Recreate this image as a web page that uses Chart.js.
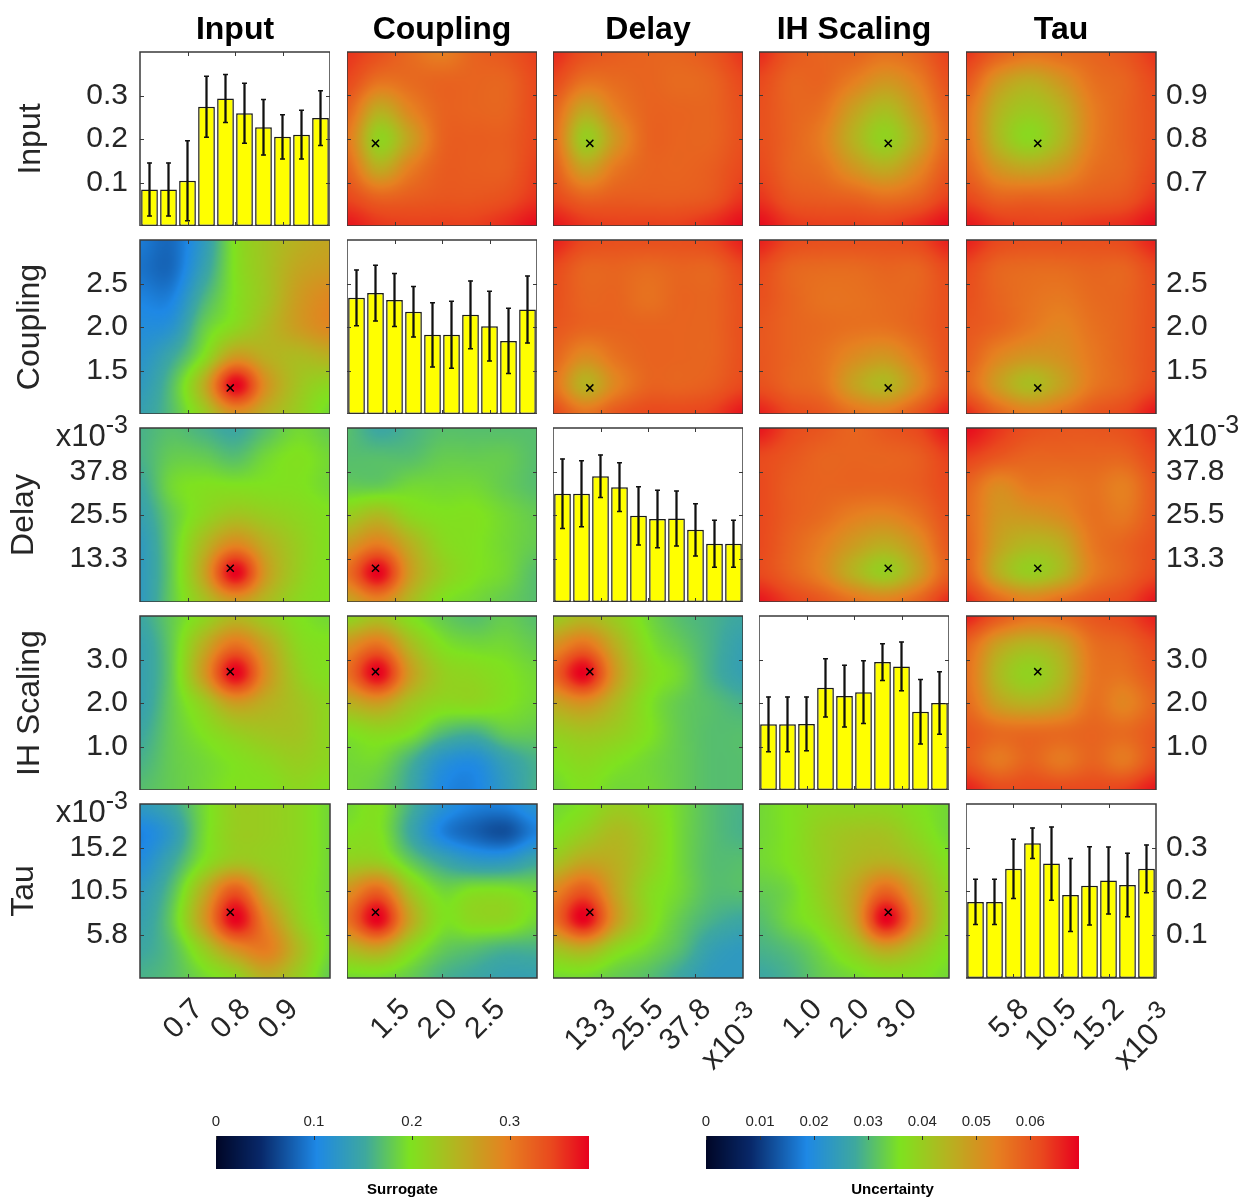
<!DOCTYPE html>
<html>
<head>
<meta charset="utf-8">
<title>Parameter posterior matrix</title>
<script src="https://cdn.jsdelivr.net/npm/chart.js@4.4.1/dist/chart.umd.min.js"></script>
<style>
  html, body { margin: 0; padding: 0; background: #ffffff; }
  #page { position: relative; width: 1246px; height: 1201px; overflow: hidden; background: #ffffff; }
  #page canvas { position: absolute; }
</style>
</head>
<body>
<div id="page"></div>
<script>
// ---- parameters (rows / columns of the matrix) ----
const paramNames = ["Input", "Coupling", "Delay", "IH Scaling", "Tau"];
const paramMin = [0.6, 1.0, 0.001, 0.0, 0.0011];
const paramMax = [1.0, 3.0, 0.050, 4.0, 0.0199];
const paramTicks = [
  [0.7, 0.8, 0.9],
  [1.5, 2.0, 2.5],
  [0.01325, 0.0255, 0.03775],
  [1.0, 2.0, 3.0],
  [0.0058, 0.0105, 0.0152]
];
const paramTickLabels = [
  ["0.7", "0.8", "0.9"],
  ["1.5", "2.0", "2.5"],
  ["13.3", "25.5", "37.8"],
  ["1.0", "2.0", "3.0"],
  ["5.8", "10.5", "15.2"]
];
const paramScaled = [false, false, true, false, true]; // axes shown as x10^-3
const bestFit = [0.79, 1.3, 0.0105, 2.72, 0.0082];

// ---- histograms on the diagonal (10 bins each) ----
const probTicks = [0.1, 0.2, 0.3];
const probTickLabels = ["0.1", "0.2", "0.3"];
const probMax = 0.4;

const probInput = [0.084, 0.084, 0.104, 0.274, 0.293, 0.259, 0.227, 0.205, 0.210, 0.248];
const errInput = [0.061, 0.061, 0.092, 0.070, 0.055, 0.069, 0.064, 0.051, 0.056, 0.063];
const probCoupling = [0.267, 0.278, 0.262, 0.235, 0.182, 0.182, 0.228, 0.202, 0.168, 0.240];
const errCoupling = [0.064, 0.064, 0.061, 0.058, 0.074, 0.077, 0.078, 0.080, 0.075, 0.077];
const probDelay = [0.249, 0.249, 0.289, 0.264, 0.198, 0.191, 0.192, 0.166, 0.134, 0.134];
const errDelay = [0.080, 0.076, 0.049, 0.056, 0.067, 0.066, 0.063, 0.060, 0.054, 0.054];
const probIh = [0.151, 0.151, 0.152, 0.235, 0.216, 0.225, 0.294, 0.284, 0.180, 0.200];
const errIh = [0.063, 0.063, 0.062, 0.067, 0.071, 0.072, 0.042, 0.056, 0.074, 0.072];
const probTau = [0.175, 0.175, 0.251, 0.310, 0.263, 0.191, 0.212, 0.224, 0.214, 0.251];
const errTau = [0.052, 0.052, 0.068, 0.035, 0.084, 0.084, 0.090, 0.077, 0.073, 0.055];

// ---- colour scales ----
const surrogateMax = 0.381;
const surrogateTicks = [0, 0.1, 0.2, 0.3];
const surrogateTickLabels = ["0", "0.1", "0.2", "0.3"];
const uncertaintyMax = 0.069;
const uncertaintyTicks = [0, 0.01, 0.02, 0.03, 0.04, 0.05, 0.06];
const uncertaintyTickLabels = ["0", "0.01", "0.02", "0.03", "0.04", "0.05", "0.06"];

// ---- surrogate maps (lower triangle), rows top -> bottom, 7x7 nodes ----
const surCouplingInput = [
  [0.095, 0.085, 0.13, 0.20, 0.23, 0.25, 0.26],
  [0.090, 0.085, 0.14, 0.20, 0.23, 0.26, 0.27],
  [0.100, 0.100, 0.16, 0.20, 0.23, 0.27, 0.29],
  [0.110, 0.120, 0.18, 0.21, 0.24, 0.27, 0.29],
  [0.120, 0.150, 0.20, 0.27, 0.25, 0.24, 0.25],
  [0.130, 0.170, 0.25, 0.38, 0.28, 0.23, 0.21],
  [0.140, 0.170, 0.22, 0.28, 0.25, 0.22, 0.19]
];
const surDelayInput = [
  [0.16, 0.17, 0.16, 0.15, 0.17, 0.19, 0.18],
  [0.16, 0.18, 0.18, 0.17, 0.19, 0.20, 0.19],
  [0.15, 0.19, 0.20, 0.20, 0.20, 0.20, 0.19],
  [0.14, 0.18, 0.21, 0.23, 0.22, 0.21, 0.20],
  [0.13, 0.18, 0.24, 0.29, 0.25, 0.22, 0.20],
  [0.13, 0.18, 0.26, 0.38, 0.27, 0.22, 0.20],
  [0.13, 0.18, 0.23, 0.27, 0.24, 0.21, 0.20]
];
const surDelayCoupling = [
  [0.17, 0.15, 0.16, 0.17, 0.17, 0.17, 0.17],
  [0.17, 0.17, 0.17, 0.18, 0.18, 0.18, 0.17],
  [0.18, 0.18, 0.19, 0.19, 0.19, 0.18, 0.17],
  [0.22, 0.24, 0.21, 0.20, 0.20, 0.19, 0.18],
  [0.27, 0.30, 0.25, 0.21, 0.20, 0.19, 0.18],
  [0.31, 0.38, 0.27, 0.22, 0.20, 0.19, 0.17],
  [0.26, 0.29, 0.24, 0.20, 0.19, 0.18, 0.17]
];
const surIhInput = [
  [0.15, 0.18, 0.21, 0.24, 0.22, 0.20, 0.19],
  [0.14, 0.18, 0.25, 0.31, 0.26, 0.21, 0.20],
  [0.14, 0.18, 0.27, 0.38, 0.28, 0.22, 0.20],
  [0.14, 0.18, 0.22, 0.27, 0.25, 0.23, 0.21],
  [0.15, 0.18, 0.20, 0.22, 0.23, 0.23, 0.21],
  [0.16, 0.18, 0.19, 0.20, 0.21, 0.22, 0.21],
  [0.17, 0.18, 0.19, 0.20, 0.20, 0.21, 0.20]
];
const surIhCoupling = [
  [0.21, 0.23, 0.20, 0.18, 0.17, 0.18, 0.17],
  [0.28, 0.31, 0.24, 0.20, 0.19, 0.19, 0.18],
  [0.31, 0.38, 0.27, 0.22, 0.21, 0.20, 0.19],
  [0.25, 0.27, 0.23, 0.21, 0.21, 0.20, 0.19],
  [0.20, 0.21, 0.20, 0.17, 0.16, 0.18, 0.18],
  [0.19, 0.19, 0.16, 0.12, 0.11, 0.14, 0.16],
  [0.19, 0.18, 0.15, 0.105, 0.10, 0.13, 0.16]
];
const surIhDelay = [
  [0.22, 0.24, 0.22, 0.19, 0.17, 0.16, 0.15],
  [0.28, 0.31, 0.25, 0.20, 0.18, 0.16, 0.14],
  [0.32, 0.38, 0.27, 0.21, 0.19, 0.16, 0.14],
  [0.26, 0.28, 0.24, 0.20, 0.18, 0.17, 0.16],
  [0.22, 0.23, 0.22, 0.20, 0.18, 0.17, 0.17],
  [0.20, 0.21, 0.20, 0.19, 0.18, 0.17, 0.17],
  [0.19, 0.20, 0.19, 0.19, 0.18, 0.17, 0.17]
];
const surTauInput = [
  [0.13, 0.15, 0.19, 0.22, 0.22, 0.21, 0.19],
  [0.10, 0.13, 0.19, 0.22, 0.22, 0.21, 0.19],
  [0.11, 0.15, 0.20, 0.23, 0.22, 0.21, 0.19],
  [0.13, 0.17, 0.25, 0.33, 0.25, 0.21, 0.19],
  [0.14, 0.18, 0.27, 0.38, 0.29, 0.22, 0.19],
  [0.15, 0.17, 0.22, 0.28, 0.30, 0.24, 0.19],
  [0.16, 0.17, 0.19, 0.21, 0.25, 0.22, 0.18]
];
const surTauCoupling = [
  [0.19, 0.20, 0.16, 0.12, 0.10, 0.10, 0.12],
  [0.20, 0.20, 0.15, 0.10, 0.08, 0.07, 0.10],
  [0.22, 0.22, 0.18, 0.15, 0.13, 0.13, 0.15],
  [0.28, 0.32, 0.23, 0.19, 0.20, 0.20, 0.19],
  [0.31, 0.38, 0.26, 0.20, 0.21, 0.21, 0.19],
  [0.24, 0.26, 0.21, 0.18, 0.17, 0.16, 0.16],
  [0.19, 0.19, 0.18, 0.16, 0.15, 0.14, 0.14]
];
const surTauDelay = [
  [0.19, 0.20, 0.22, 0.21, 0.19, 0.17, 0.16],
  [0.20, 0.22, 0.24, 0.22, 0.19, 0.17, 0.16],
  [0.23, 0.26, 0.25, 0.22, 0.19, 0.17, 0.17],
  [0.29, 0.33, 0.26, 0.21, 0.19, 0.17, 0.17],
  [0.31, 0.38, 0.27, 0.21, 0.18, 0.16, 0.15],
  [0.23, 0.25, 0.21, 0.19, 0.17, 0.14, 0.13],
  [0.19, 0.19, 0.18, 0.17, 0.15, 0.13, 0.13]
];
const surTauIh = [
  [0.19, 0.20, 0.21, 0.21, 0.21, 0.20, 0.19],
  [0.19, 0.20, 0.22, 0.23, 0.23, 0.21, 0.19],
  [0.19, 0.20, 0.22, 0.24, 0.25, 0.23, 0.20],
  [0.18, 0.19, 0.22, 0.26, 0.32, 0.26, 0.21],
  [0.17, 0.19, 0.21, 0.26, 0.38, 0.28, 0.21],
  [0.16, 0.17, 0.19, 0.22, 0.26, 0.23, 0.20],
  [0.15, 0.16, 0.18, 0.19, 0.20, 0.20, 0.19]
];

// ---- uncertainty maps (upper triangle) ----
const uncInputCoupling = [
  [0.064, 0.061, 0.057, 0.054, 0.058, 0.060, 0.063],
  [0.062, 0.056, 0.057, 0.058, 0.058, 0.058, 0.062],
  [0.058, 0.046, 0.053, 0.058, 0.058, 0.058, 0.062],
  [0.055, 0.039, 0.048, 0.058, 0.059, 0.059, 0.062],
  [0.058, 0.046, 0.054, 0.059, 0.059, 0.059, 0.063],
  [0.062, 0.058, 0.059, 0.060, 0.060, 0.061, 0.064],
  [0.067, 0.064, 0.063, 0.063, 0.063, 0.065, 0.068]
];
const uncInputDelay = [
  [0.065, 0.061, 0.059, 0.058, 0.058, 0.060, 0.064],
  [0.062, 0.056, 0.057, 0.058, 0.057, 0.058, 0.062],
  [0.058, 0.047, 0.054, 0.058, 0.058, 0.058, 0.061],
  [0.057, 0.040, 0.050, 0.058, 0.058, 0.058, 0.061],
  [0.059, 0.048, 0.055, 0.058, 0.058, 0.059, 0.062],
  [0.062, 0.058, 0.059, 0.059, 0.059, 0.060, 0.064],
  [0.067, 0.064, 0.063, 0.063, 0.063, 0.065, 0.068]
];
const uncInputIh = [
  [0.065, 0.060, 0.058, 0.058, 0.056, 0.058, 0.063],
  [0.062, 0.058, 0.058, 0.054, 0.050, 0.054, 0.061],
  [0.061, 0.058, 0.056, 0.048, 0.043, 0.050, 0.059],
  [0.061, 0.058, 0.054, 0.045, 0.039, 0.047, 0.058],
  [0.062, 0.058, 0.056, 0.050, 0.046, 0.052, 0.060],
  [0.064, 0.060, 0.059, 0.058, 0.056, 0.058, 0.063],
  [0.068, 0.064, 0.063, 0.063, 0.063, 0.065, 0.068]
];
const uncInputTau = [
  [0.064, 0.059, 0.056, 0.057, 0.058, 0.060, 0.064],
  [0.060, 0.050, 0.046, 0.050, 0.056, 0.058, 0.062],
  [0.056, 0.045, 0.041, 0.045, 0.054, 0.058, 0.061],
  [0.056, 0.044, 0.038, 0.044, 0.054, 0.058, 0.061],
  [0.058, 0.050, 0.047, 0.050, 0.056, 0.058, 0.062],
  [0.062, 0.058, 0.058, 0.058, 0.059, 0.060, 0.064],
  [0.067, 0.064, 0.063, 0.063, 0.064, 0.065, 0.068]
];
const uncCouplingDelay = [
  [0.066, 0.062, 0.061, 0.061, 0.061, 0.062, 0.066],
  [0.062, 0.058, 0.058, 0.057, 0.058, 0.058, 0.062],
  [0.061, 0.058, 0.058, 0.056, 0.058, 0.058, 0.061],
  [0.060, 0.058, 0.058, 0.058, 0.058, 0.058, 0.061],
  [0.058, 0.052, 0.056, 0.058, 0.058, 0.058, 0.061],
  [0.056, 0.045, 0.053, 0.058, 0.058, 0.059, 0.062],
  [0.062, 0.056, 0.060, 0.062, 0.062, 0.063, 0.067]
];
const uncCouplingIh = [
  [0.066, 0.062, 0.061, 0.061, 0.061, 0.062, 0.066],
  [0.062, 0.058, 0.057, 0.057, 0.058, 0.058, 0.062],
  [0.061, 0.058, 0.056, 0.056, 0.057, 0.058, 0.061],
  [0.060, 0.058, 0.057, 0.056, 0.056, 0.058, 0.061],
  [0.060, 0.058, 0.056, 0.052, 0.050, 0.055, 0.061],
  [0.061, 0.058, 0.056, 0.048, 0.044, 0.052, 0.061],
  [0.066, 0.062, 0.060, 0.056, 0.055, 0.060, 0.066]
];
const uncCouplingTau = [
  [0.066, 0.062, 0.061, 0.061, 0.061, 0.062, 0.066],
  [0.062, 0.058, 0.057, 0.057, 0.058, 0.058, 0.062],
  [0.061, 0.058, 0.056, 0.055, 0.057, 0.058, 0.061],
  [0.060, 0.058, 0.055, 0.053, 0.056, 0.058, 0.061],
  [0.059, 0.053, 0.050, 0.051, 0.055, 0.058, 0.061],
  [0.058, 0.049, 0.043, 0.048, 0.055, 0.058, 0.062],
  [0.065, 0.058, 0.054, 0.056, 0.060, 0.062, 0.067]
];
const uncDelayIh = [
  [0.067, 0.062, 0.060, 0.058, 0.060, 0.062, 0.067],
  [0.062, 0.060, 0.058, 0.058, 0.058, 0.059, 0.063],
  [0.062, 0.059, 0.058, 0.058, 0.058, 0.059, 0.062],
  [0.062, 0.059, 0.057, 0.054, 0.053, 0.056, 0.061],
  [0.062, 0.058, 0.054, 0.049, 0.046, 0.051, 0.060],
  [0.062, 0.058, 0.053, 0.045, 0.040, 0.048, 0.059],
  [0.067, 0.063, 0.060, 0.056, 0.054, 0.058, 0.065]
];
const uncDelayTau = [
  [0.068, 0.064, 0.061, 0.060, 0.060, 0.061, 0.064],
  [0.063, 0.060, 0.058, 0.058, 0.058, 0.058, 0.062],
  [0.058, 0.052, 0.055, 0.055, 0.056, 0.054, 0.060],
  [0.057, 0.050, 0.050, 0.052, 0.056, 0.055, 0.060],
  [0.058, 0.048, 0.044, 0.046, 0.055, 0.058, 0.061],
  [0.059, 0.046, 0.040, 0.044, 0.054, 0.058, 0.062],
  [0.065, 0.058, 0.054, 0.057, 0.060, 0.062, 0.067]
];
const uncIhTau = [
  [0.066, 0.060, 0.056, 0.057, 0.060, 0.062, 0.066],
  [0.058, 0.048, 0.044, 0.047, 0.056, 0.058, 0.062],
  [0.056, 0.044, 0.039, 0.044, 0.055, 0.056, 0.060],
  [0.057, 0.048, 0.045, 0.048, 0.056, 0.053, 0.058],
  [0.060, 0.057, 0.057, 0.057, 0.058, 0.057, 0.060],
  [0.060, 0.055, 0.058, 0.055, 0.058, 0.055, 0.061],
  [0.066, 0.062, 0.062, 0.062, 0.062, 0.063, 0.067]
];

// lookup tables built from the arrays above
const probByParam = [probInput, probCoupling, probDelay, probIh, probTau];
const errByParam = [errInput, errCoupling, errDelay, errIh, errTau];
const heatGrids = [
  [null, uncInputCoupling, uncInputDelay, uncInputIh, uncInputTau],
  [surCouplingInput, null, uncCouplingDelay, uncCouplingIh, uncCouplingTau],
  [surDelayInput, surDelayCoupling, null, uncDelayIh, uncDelayTau],
  [surIhInput, surIhCoupling, surIhDelay, null, uncIhTau],
  [surTauInput, surTauCoupling, surTauDelay, surTauIh, null]
];

// colour map (fraction, r, g, b)
const cmapStops = [
  [0.00, 0, 6, 38],
  [0.12, 8, 40, 105],
  [0.27, 30, 136, 229],
  [0.40, 62, 168, 158],
  [0.52, 126, 226, 31],
  [0.65, 182, 178, 32],
  [0.78, 230, 128, 32],
  [0.90, 233, 72, 30],
  [1.00, 232, 0, 30]
];

// ---- layout ----
const pageW = 1246;
const colLeft = [140, 347, 553, 759, 966];
const rowTop = [52, 240, 428, 616, 804];
const panelW = 190, panelH = 174;
const rowLabelLeft = [12, 11, 5, 11, 5];
const bottomAxisH = 100;
const headroom = 16;      // room above a panel for the x10^-3 superscript
const rightSpill = 30;    // room right of a bottom panel for the rotated x10^-3
const tickSize = 30;
const ink = '#262626';
const frameColour = '#3a3a3a';
const fontFamily = '"Liberation Sans", Arial, Helvetica, sans-serif';

Chart.defaults.font.family = fontFamily;
Chart.defaults.color = ink;
Chart.defaults.animation = false;
Chart.defaults.events = [];
Chart.defaults.plugins.legend.display = false;
Chart.defaults.plugins.tooltip.enabled = false;

const page = document.getElementById('page');

function addCanvas(x, y, w, h) {
  const cv = document.createElement('canvas');
  cv.width = w;
  cv.height = h;
  cv.style.left = x + 'px';
  cv.style.top = y + 'px';
  cv.style.width = w + 'px';
  cv.style.height = h + 'px';
  page.appendChild(cv);
  return cv;
}

function colourAt(f) {
  f = Math.max(0, Math.min(1, f));
  for (let k = 1; k < cmapStops.length; k++) {
    const [f1, r1, g1, b1] = cmapStops[k];
    if (f <= f1) {
      const [f0, r0, g0, b0] = cmapStops[k - 1];
      const t = (f - f0) / (f1 - f0);
      return [r0 + t * (r1 - r0), g0 + t * (g1 - g0), b0 + t * (b1 - b0)];
    }
  }
  return cmapStops[cmapStops.length - 1].slice(1);
}

// Catmull-Rom smoothing of the node grid ("shading interp")
function cr(p0, p1, p2, p3, t) {
  return p1 + 0.5 * t * (p2 - p0 + t * (2 * p0 - 5 * p1 + 4 * p2 - p3 + t * (3 * (p1 - p2) + p3 - p0)));
}
function sampleGrid(grid, gx, gy) {
  const rows = grid.length, cols = grid[0].length;
  const ix = Math.min(Math.floor(gx), cols - 2);
  const iy = Math.min(Math.floor(gy), rows - 2);
  const tx = gx - ix, ty = gy - iy;
  const at = (r, c) => grid[Math.max(0, Math.min(rows - 1, r))][Math.max(0, Math.min(cols - 1, c))];
  const rowVal = r => cr(at(r, ix - 1), at(r, ix), at(r, ix + 1), at(r, ix + 2), tx);
  return cr(rowVal(iy - 1), rowVal(iy), rowVal(iy + 1), rowVal(iy + 2), ty);
}

function heatImage(grid, vmax) {
  const n = 96;
  const off = document.createElement('canvas');
  off.width = n;
  off.height = n;
  const octx = off.getContext('2d');
  const im = octx.createImageData(n, n);
  const rows = grid.length, cols = grid[0].length;
  for (let j = 0; j < n; j++) {
    const gy = (j + 0.5) / n * (rows - 1);
    for (let i = 0; i < n; i++) {
      const gx = (i + 0.5) / n * (cols - 1);
      const rgb = colourAt(sampleGrid(grid, gx, gy) / vmax);
      const k = (j * n + i) * 4;
      im.data[k] = rgb[0];
      im.data[k + 1] = rgb[1];
      im.data[k + 2] = rgb[2];
      im.data[k + 3] = 255;
    }
  }
  octx.putImageData(im, 0, 0);
  return off;
}

// plugins
function heatLayer(grid, vmax) {
  const img = heatImage(grid, vmax);
  return {
    id: 'heatLayer',
    beforeDatasetsDraw(chart) {
      const { ctx } = chart;
      const xs = chart.scales.x, ys = chart.scales.y;
      const left = xs.getPixelForValue(xs.min), right = xs.getPixelForValue(xs.max);
      const top = ys.getPixelForValue(ys.max), bottom = ys.getPixelForValue(ys.min);
      ctx.save();
      ctx.imageSmoothingEnabled = true;
      ctx.imageSmoothingQuality = 'high';
      ctx.drawImage(img, left, top, right - left, bottom - top);
      ctx.restore();
    }
  };
}

function panelFrame(xId, xTicks, yTicks) {
  return {
    id: 'panelFrame',
    afterDraw(chart) {
      const { ctx, chartArea: a } = chart;
      const xs = chart.scales[xId], ys = chart.scales.y;
      ctx.save();
      ctx.strokeStyle = frameColour;
      ctx.lineWidth = 1;
      ctx.beginPath();
      xTicks.forEach(v => {
        const px = Math.round(xs.getPixelForValue(v)) + 0.5;
        ctx.moveTo(px, a.top); ctx.lineTo(px, a.top + 4);
        ctx.moveTo(px, a.bottom); ctx.lineTo(px, a.bottom - 4);
      });
      yTicks.forEach(v => {
        const py = Math.round(ys.getPixelForValue(v)) + 0.5;
        ctx.moveTo(a.left, py); ctx.lineTo(a.left + 4, py);
        ctx.moveTo(a.right, py); ctx.lineTo(a.right - 4, py);
      });
      ctx.stroke();
      ctx.lineWidth = 1.5;
      ctx.strokeRect(a.left, a.top, a.right - a.left, a.bottom - a.top);
      ctx.restore();
    }
  };
}

function columnTitle(text) {
  return {
    id: 'columnTitle',
    afterDraw(chart) {
      const { ctx, chartArea: a } = chart;
      ctx.save();
      ctx.font = 'bold 32px ' + fontFamily;
      ctx.fillStyle = '#000';
      ctx.textAlign = 'center';
      ctx.textBaseline = 'middle';
      ctx.fillText(text, (a.left + a.right) / 2, 30);
      ctx.restore();
    }
  };
}

function drawExponent(ctx, x, y, align, angle) {
  ctx.save();
  ctx.translate(x, y);
  ctx.rotate(angle);
  ctx.fillStyle = ink;
  ctx.textAlign = 'left';
  ctx.textBaseline = 'alphabetic';
  ctx.font = '31px ' + fontFamily;
  const w1 = ctx.measureText('x10').width;
  ctx.font = '25px ' + fontFamily;
  const w2 = ctx.measureText('-3').width;
  const x0 = align === 'right' ? -(w1 + w2) : 0;
  ctx.font = '31px ' + fontFamily;
  ctx.fillText('x10', x0, 0);
  ctx.font = '25px ' + fontFamily;
  ctx.fillText('-3', x0 + w1, -13);
  ctx.restore();
}

function exponentMarks(sides) {
  return {
    id: 'exponentMarks',
    afterDraw(chart) {
      const { ctx, chartArea: a } = chart;
      sides.forEach(side => {
        if (side === 'left') drawExponent(ctx, a.left - 12, a.top + 18, 'right', 0);
        if (side === 'right') drawExponent(ctx, a.right + 11, a.top + 18, 'left', 0);
        if (side === 'bottom') drawExponent(ctx, a.right + 21, a.bottom + 42, 'right', -Math.PI / 4);
      });
    }
  };
}

// force the box size of a visible axis so every panel gets the same plot area
function fitTo(s, size) {
  if (s.options.display) {
    if (s.isHorizontal()) s.height = size; else s.width = size;
  }
  s.paddingTop = 0; s.paddingBottom = 0; s.paddingLeft = 0; s.paddingRight = 0;
}

function tickOptions(position, labels) {
  if (position === 'bottom') {
    return { autoSkip: false, minRotation: 45, maxRotation: 45, padding: 14, labelOffset: 11,
             font: { size: tickSize }, callback: (v, i) => labels[i] };
  }
  return { autoSkip: false, padding: position === 'left' ? 12 : 10,
           font: { size: tickSize }, callback: (v, i) => labels[i] };
}

function axisTitle(text) {
  if (!text) return { display: false };
  return { display: true, text: text, font: { size: 32 }, padding: 0, color: ink };
}

function paramAxis(p, position, show, fitSize, title) {
  return {
    type: 'linear',
    position: position,
    display: show,
    offset: false,
    min: paramMin[p],
    max: paramMax[p],
    afterBuildTicks: s => { s.ticks = paramTicks[p].map(v => ({ value: v })); },
    afterFit: s => fitTo(s, fitSize),
    grid: { display: false, drawTicks: false, offset: false },
    border: { display: false },
    title: axisTitle(title),
    ticks: tickOptions(position, paramTickLabels[p])
  };
}

function probAxis(position, show, fitSize, title) {
  return {
    type: 'linear',
    position: position,
    display: show,
    min: 0,
    max: probMax,
    afterBuildTicks: s => { s.ticks = probTicks.map(v => ({ value: v })); },
    afterFit: s => fitTo(s, fitSize),
    grid: { display: false, drawTicks: false },
    border: { display: false },
    title: axisTitle(title),
    ticks: tickOptions(position, probTickLabels)
  };
}

function buildPanel(r, c) {
  const left = c === 0 ? rowLabelLeft[r] : colLeft[c];
  const right = c === 4 ? pageW : colLeft[c] + panelW + (r === 4 ? rightSpill : 0);
  const top = r === 0 ? 0 : rowTop[r] - headroom;
  const bottom = r === 4 ? rowTop[r] + panelH + bottomAxisH : rowTop[r] + panelH;
  const canvas = addCanvas(left, top, right - left, bottom - top);
  const leftW = colLeft[0] - left;
  const rightW = c === 4 ? pageW - (colLeft[4] + panelW) : 0;
  const sideW = c === 0 ? leftW : rightW;
  const showSide = c === 0 || c === 4;
  const sidePos = c === 4 ? 'right' : 'left';
  const sideTitle = c === 0 ? paramNames[r] : null;

  const plugins = [];
  const expSides = [];
  if (r === 0) plugins.push(columnTitle(paramNames[c]));
  if (r === 4 && paramScaled[c]) expSides.push('bottom');

  const base = {
    responsive: false,
    animation: false,
    events: [],
    layout: {
      autoPadding: false,
      padding: {
        top: rowTop[r] - top,
        left: 0,
        right: (r === 4 && c < 4) ? rightSpill : 0,
        bottom: 0
      }
    },
    plugins: { legend: { display: false }, tooltip: { enabled: false } }
  };

  if (r === c) {
    const prob = probByParam[r], err = errByParam[r];
    plugins.push(panelFrame('xp', paramTicks[c], probTicks));
    if (expSides.length) plugins.push(exponentMarks(expSides));
    new Chart(canvas, {
      type: 'bar',
      data: {
        labels: prob.map((_, i) => String(i + 1)),
        datasets: [
          { type: 'line', data: prob.map((p, i) => p + err[i]), showLine: false, pointStyle: 'line',
            pointRadius: 2.5, pointBorderWidth: 1.5, pointBorderColor: '#111', borderColor: '#111', order: 0 },
          { type: 'line', data: prob.map((p, i) => p - err[i]), showLine: false, pointStyle: 'line',
            pointRadius: 2.5, pointBorderWidth: 1.5, pointBorderColor: '#111', borderColor: '#111', order: 0 },
          { data: prob.map((p, i) => [p - err[i], p + err[i]]), backgroundColor: '#111',
            barThickness: 1.6, grouped: false, order: 1 },
          { data: prob, backgroundColor: '#ffff00', borderColor: '#1a1a1a', borderWidth: 1.5,
            borderSkipped: false, barPercentage: 0.88, categoryPercentage: 1, grouped: false, order: 2 }
        ]
      },
      options: Object.assign(base, {
        scales: {
          x: { type: 'category', display: false, offset: true },
          xp: paramAxis(c, 'bottom', r === 4, bottomAxisH, null),
          y: probAxis(sidePos, showSide, sideW, sideTitle)
        }
      }),
      plugins: plugins
    });
    return;
  }

  const upper = c > r;
  plugins.unshift(heatLayer(heatGrids[r][c], upper ? uncertaintyMax : surrogateMax));
  plugins.push(panelFrame('x', paramTicks[c], paramTicks[r]));
  if (showSide && paramScaled[r]) expSides.push(c === 0 ? 'left' : 'right');
  if (expSides.length) plugins.push(exponentMarks(expSides));

  new Chart(canvas, {
    type: 'scatter',
    data: {
      datasets: [{
        data: [{ x: bestFit[c], y: bestFit[r] }],
        pointStyle: 'crossRot', pointRadius: 5, pointBorderWidth: 1.5,
        pointBorderColor: '#000', borderColor: '#000', backgroundColor: '#000'
      }]
    },
    options: Object.assign(base, {
      scales: {
        x: paramAxis(c, 'bottom', r === 4, bottomAxisH, null),
        y: paramAxis(r, sidePos, showSide, sideW, sideTitle)
      }
    }),
    plugins: plugins
  });
}

function colourbarFill(vmax, ticks) {
  return {
    id: 'colourbarFill',
    beforeDatasetsDraw(chart) {
      const { ctx, chartArea: a } = chart;
      const xs = chart.scales.x;
      for (let px = Math.floor(a.left); px < Math.ceil(a.right); px++) {
        const rgb = colourAt(xs.getValueForPixel(px + 0.5) / vmax);
        ctx.fillStyle = 'rgb(' + rgb.map(Math.round).join(',') + ')';
        ctx.fillRect(px, a.top, 1, a.bottom - a.top);
      }
      ctx.save();
      ctx.strokeStyle = '#333';
      ctx.lineWidth = 1;
      ctx.beginPath();
      ticks.forEach(v => {
        const px = Math.round(xs.getPixelForValue(v)) + 0.5;
        ctx.moveTo(px, a.top); ctx.lineTo(px, a.top + 4);
      });
      ctx.stroke();
      ctx.restore();
    }
  };
}

function buildColourbar(barLeft, barWidth, vmax, ticks, labels, title) {
  const side = 26;
  const canvas = addCanvas(barLeft - side, 1100, barWidth + 2 * side, 101);
  new Chart(canvas, {
    type: 'scatter',
    data: { datasets: [] },
    options: {
      responsive: false,
      animation: false,
      events: [],
      layout: { autoPadding: false, padding: { left: side, right: side, top: 0, bottom: 0 } },
      scales: {
        x: {
          type: 'linear', position: 'top', min: 0, max: vmax,
          afterBuildTicks: s => { s.ticks = ticks.map(v => ({ value: v })); },
          afterFit: s => fitTo(s, 36),
          grid: { display: false, drawTicks: false },
          border: { display: false },
          ticks: { autoSkip: false, maxRotation: 0, padding: 5, font: { size: 15 }, callback: (v, i) => labels[i] }
        },
        y: { display: false, min: 0, max: 1 }
      },
      plugins: {
        legend: { display: false },
        tooltip: { enabled: false },
        title: { display: true, position: 'bottom', text: title, color: '#000',
                 font: { size: 15, weight: 'bold' }, padding: { top: 12, bottom: 2 } }
      }
    },
    plugins: [colourbarFill(vmax, ticks)]
  });
}

for (let r = 0; r < 5; r++) {
  for (let c = 0; c < 5; c++) {
    buildPanel(r, c);
  }
}
buildColourbar(216, 373, surrogateMax, surrogateTicks, surrogateTickLabels, 'Surrogate');
buildColourbar(706, 373, uncertaintyMax, uncertaintyTicks, uncertaintyTickLabels, 'Uncertainty');
</script>
</body>
</html>
